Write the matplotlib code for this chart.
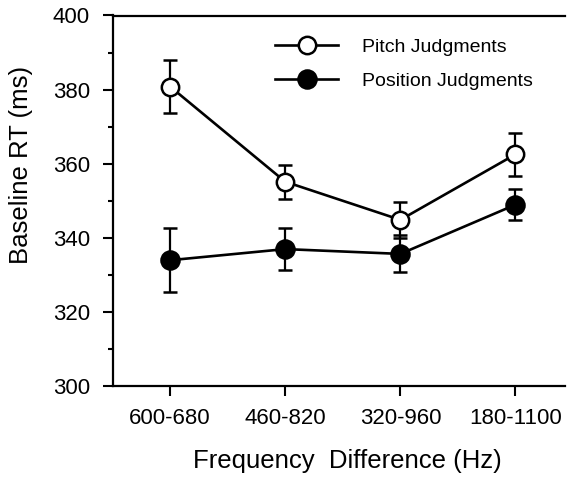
import matplotlib
matplotlib.use("Agg")
import matplotlib.pyplot as plt
from matplotlib.lines import Line2D
import numpy as np

plt.rcParams["font.family"] = ["Liberation Sans", "DejaVu Sans"]

# data
categories = ["600-680", "460-820", "320-960", "180-1100"]
pitch_rt = [380.8, 355.1, 344.8, 362.5]
pitch_err = [7.1, 4.6, 4.8, 5.8]
position_rt = [333.9, 336.9, 335.6, 348.9]
position_err = [8.7, 5.7, 5.0, 4.1]
series_labels = ["Pitch Judgments", "Position Judgments"]

x = np.arange(len(categories))

W, H = 569, 482
fig = plt.figure(figsize=(W / 100, H / 100), dpi=100)
ax = fig.add_axes([113 / W, 1 - 385.7 / H, (565 - 113) / W, (385.7 - 15.5) / H])

common = dict(color="black", linewidth=1.9, elinewidth=1.6, capsize=5,
              capthick=1.6, markeredgewidth=1.8, markeredgecolor="black")
ax.errorbar(x, pitch_rt, yerr=pitch_err, marker="o", markersize=12.5,
            markerfacecolor="white", zorder=3, **common)
ax.errorbar(x, position_rt, yerr=position_err, marker="o", markersize=13,
            markerfacecolor="black", zorder=3, **common)

ax.set_ylim(300, 400)
ax.set_xlim(-0.496, 3.43)
ax.set_yticks(np.arange(300, 401, 20))
ax.set_yticks(np.arange(310, 400, 20), minor=True)
ax.set_xticks(x)
ax.set_xticklabels(categories)

ax.spines["right"].set_visible(False)
for s in ["left", "bottom", "top"]:
    ax.spines[s].set_linewidth(1.6)

ax.tick_params(axis="y", which="major", direction="out", length=7, width=1.5,
               pad=9.5, labelsize=16)
ax.tick_params(axis="y", which="minor", direction="out", length=3.5, width=1.5)
ax.tick_params(axis="x", which="major", direction="out", length=7, width=1.5,
               pad=9, labelsize=16)

ax.set_ylabel("Baseline RT (ms)", fontsize=18.5)
ax.yaxis.set_label_coords(-0.177, 0.596)
ax.set_xlabel("Frequency  Difference (Hz)", fontsize=18.5)
ax.xaxis.set_label_coords(0.518, -0.172)

# legend shows only line + marker (no error bars)
handles = [
    Line2D([], [], color="black", linewidth=1.9, marker="o", markersize=12.5,
           markerfacecolor="white", markeredgecolor="black", markeredgewidth=1.8),
    Line2D([], [], color="black", linewidth=1.9, marker="o", markersize=13,
           markerfacecolor="black", markeredgecolor="black", markeredgewidth=1.8),
]
fs = 14
ax.legend(handles, series_labels,
          loc="upper left", bbox_to_anchor=(275 / W, 1 - 38 / H),
          bbox_transform=fig.transFigure, frameon=False, fontsize=fs,
          handlelength=63 / (fs * 100 / 72), handletextpad=24 / (fs * 100 / 72),
          labelspacing=0.85, borderpad=0, borderaxespad=0)

fig.savefig("out.png", dpi=100)
